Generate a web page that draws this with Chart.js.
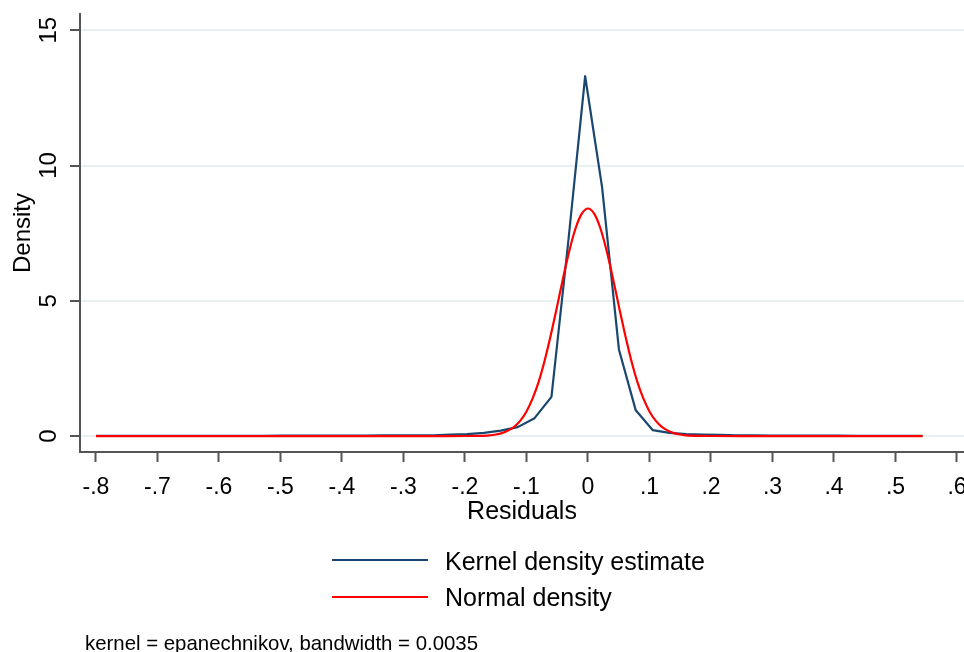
<!DOCTYPE html>
<html>
<head>
<meta charset="utf-8">
<script src="https://cdn.jsdelivr.net/npm/chart.js@4.4.1/dist/chart.umd.min.js"></script>
<style>
  body { margin: 0; background: #fff; }
  #wrap { position: relative; width: 964px; height: 652px; overflow: hidden; font-family: Arial, "Liberation Sans", sans-serif; }
  .leg-line { position: absolute; left: 332px; width: 96px; height: 0; }
  .leg-text { position: absolute; left: 445px; font-size: 25px; line-height: 25px; color: #000; white-space: nowrap; }
  #note { position: absolute; left: 85px; top: 633px; font-size: 20.4px; line-height: 20px; color: #000; white-space: nowrap; }
</style>
</head>
<body>
<div id="wrap">
  <canvas id="grafico"></canvas>
  <div class="leg-line" style="top:559px;border-top:2px solid #1a476f;"></div>
  <div class="leg-text" style="top:549px;">Kernel density estimate</div>
  <div class="leg-line" style="top:596px;border-top:2px solid #ff0000;"></div>
  <div class="leg-text" style="top:585px;">Normal density</div>
  <div id="note">kernel = epanechnikov, bandwidth = 0.0035</div>
</div>
<script>
// pontos da estimativa kernel (50 pontos)
var kernelX = [-0.8, -0.7726, -0.7451, -0.7177, -0.6903, -0.6629, -0.6354, -0.608, -0.5806, -0.5531,
  -0.5257, -0.4983, -0.4709, -0.4434, -0.416, -0.3886, -0.3611, -0.3337, -0.3063, -0.2789,
  -0.2514, -0.224, -0.1966, -0.1691, -0.1417, -0.1143, -0.0869, -0.0594, -0.032, -0.0046,
  0.0229, 0.0503, 0.0777, 0.1051, 0.1326, 0.16, 0.1874, 0.2149, 0.2423, 0.2697,
  0.2971, 0.3246, 0.352, 0.3794, 0.4069, 0.4343, 0.4617, 0.4891, 0.5166, 0.544];
var kernelY = [0.01, 0.01, 0.01, 0.01, 0.01, 0.01, 0.01, 0.01, 0.01, 0.01,
  0.01, 0.02, 0.02, 0.02, 0.02, 0.02, 0.02, 0.03, 0.03, 0.03,
  0.03, 0.05, 0.07, 0.12, 0.2, 0.33, 0.66, 1.45, 7.2, 13.3,
  9.2, 3.2, 0.95, 0.22, 0.12, 0.07, 0.05, 0.04, 0.03, 0.03,
  0.02, 0.02, 0.02, 0.02, 0.02, 0.01, 0.01, 0.01, 0.01, 0.01];

// curva normal
var normalX = [-0.8, -0.4, -0.3, -0.25, -0.2, -0.18, -0.16, -0.15, -0.14, -0.13, -0.12, -0.11, -0.1,
  -0.09, -0.08, -0.07, -0.06, -0.05, -0.04, -0.03, -0.02, -0.01, 0,
  0.01, 0.02, 0.03, 0.04, 0.05, 0.06, 0.07, 0.08, 0.09, 0.1, 0.11, 0.12,
  0.13, 0.14, 0.15, 0.16, 0.18, 0.2, 0.25, 0.3, 0.4, 0.544];
var normalY = [0, 0, 0, 0, 0.001, 0.006, 0.028, 0.056, 0.107, 0.2, 0.34, 0.57, 0.91,
  1.39, 2.02, 2.83, 3.78, 4.82, 5.89, 6.88, 7.69, 8.22, 8.41,
  8.22, 7.69, 6.88, 5.89, 4.82, 3.78, 2.83, 2.02, 1.39, 0.91, 0.57, 0.34,
  0.2, 0.107, 0.056, 0.028, 0.006, 0.001, 0, 0, 0, 0];

var xTicks = [-0.8, -0.7, -0.6, -0.5, -0.4, -0.3, -0.2, -0.1, 0, 0.1, 0.2, 0.3, 0.4, 0.5, 0.6];
var xTickLabels = ['-.8', '-.7', '-.6', '-.5', '-.4', '-.3', '-.2', '-.1', '0', '.1', '.2', '.3', '.4', '.5', '.6'];
var yTicks = [0, 5, 10, 15];
var yTickLabels = ['0', '5', '10', '15'];

function pares(xs, ys) {
  return xs.map(function (x, i) { return { x: x, y: ys[i] }; });
}

var fonte = 'Arial, "Liberation Sans", sans-serif';
Chart.defaults.font.family = fonte;
Chart.defaults.color = '#000';

const ctx = document.getElementById('grafico').getContext('2d');
const myChart = new Chart(ctx, {
  type: 'line',
  data: {
    datasets: [{
      label: 'Normal density',
      data: pares(normalX, normalY),
      borderColor: '#ff0000',
      backgroundColor: '#ff0000',
      borderWidth: 2.2,
      pointRadius: 0,
      cubicInterpolationMode: 'monotone',
      order: 0
    },
    {
      label: 'Kernel density estimate',
      data: pares(kernelX, kernelY),
      borderColor: '#1a476f',
      backgroundColor: '#1a476f',
      borderWidth: 2.2,
      borderJoinStyle: 'round',
      pointRadius: 0,
      tension: 0,
      order: 1
    }]
  },
  options: {
    responsive: true,
    maintainAspectRatio: false,
    animation: false,
    layout: { padding: { left: 0, top: 14, right: 0, bottom: 120 } },
    plugins: {
      legend: { display: false },
      tooltip: { enabled: false }
    },
    scales: {
      x: {
        type: 'linear',
        min: -0.826,
        max: 0.6114,
        afterBuildTicks: function (s) { s.ticks = xTicks.map(function (v) { return { value: v }; }); },
        afterFit: function (s) { s.height = 80; s.paddingLeft = 0; s.paddingRight = 0; },
        grid: { drawOnChartArea: false, tickLength: 10, tickColor: '#555', tickWidth: 2 },
        border: { color: '#555', width: 2 },
        ticks: {
          font: { size: 23 },
          padding: 12,
          maxRotation: 0,
          autoSkip: false,
          callback: function (v, i) { return xTickLabels[i]; }
        },
        title: { display: true, text: 'Residuals', font: { size: 25 }, padding: { top: 0, bottom: 5 } }
      },
      y: {
        min: -0.59,
        max: 15.6,
        afterBuildTicks: function (s) { s.ticks = yTicks.map(function (v) { return { value: v }; }); },
        afterFit: function (s) { s.width = 80; s.paddingTop = 0; s.paddingBottom = 0; },
        grid: { color: '#e9f0f2', lineWidth: 2, tickLength: 10, tickColor: '#555', tickWidth: 2 },
        border: { color: '#555', width: 2 },
        ticks: {
          font: { size: 24 },
          padding: 7,
          minRotation: 90,
          maxRotation: 90,
          crossAlign: 'center',
          callback: function (v, i) { return yTickLabels[i]; }
        },
        title: { display: true, text: 'Density', font: { size: 24 }, padding: { top: 9, bottom: 0 } }
      }
    }
  }
});
</script>
</body>
</html>
